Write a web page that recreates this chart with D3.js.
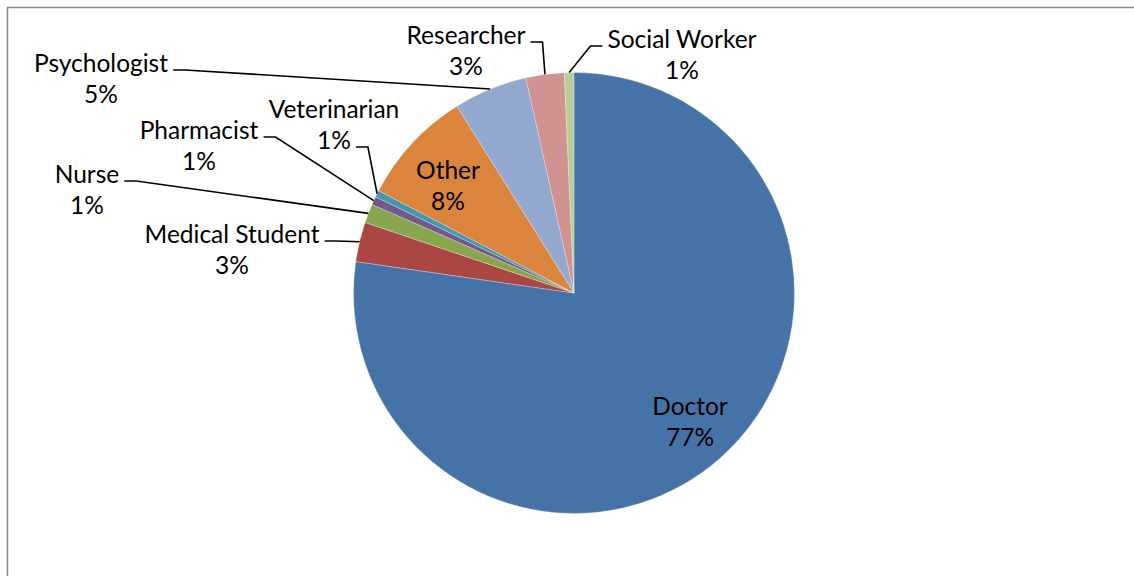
<!DOCTYPE html>
<html>
<head>
<meta charset="utf-8">
<script src="https://cdn.jsdelivr.net/npm/d3@7"></script>
<style>
  html, body { margin: 0; padding: 0; background: #fff; }
  text { font-family: Lato, "Open Sans", sans-serif; fill: #000; }
</style>
</head>
<body>
<div id="chart"></div>
<script>
// respondents by profession
const categories = ["Doctor", "Medical Student", "Nurse", "Pharmacist", "Veterinarian",
                    "Other", "Psychologist", "Researcher", "Social Worker"];
const counts = [772, 29, 14, 6, 5, 84, 54, 28, 7];
const sliceColors = ["#4572A7", "#AA4643", "#89A54E", "#71588F", "#4198AF",
                     "#DB843D", "#93A9CF", "#D19392", "#B9CD96"];

// where each label sits (centre of first line), and where its leader leaves the text
const labelLayout = [
  { x: 690, y: 405, inside: true },
  { x: 232, y: 233, side: "right", line: 0 },
  { x: 87,  y: 173, side: "right", line: 0 },
  { x: 199, y: 129, side: "right", line: 0 },
  { x: 334, y: 108, side: "right", line: 1 },
  { x: 448, y: 169, inside: true },
  { x: 101, y: 62,  side: "right", line: 0 },
  { x: 466, y: 34,  side: "right", line: 0 },
  { x: 682, y: 38,  side: "left",  line: 0 }
];

const width = 1134,
      height = 576;
const cx = 574, cy = 293, radius = 220.5;
const fontSize = 24.5, lineGap = 31;

var svg = d3.select('#chart').append('svg')
  .attr('width', width)
  .attr('height', height);

// chart area frame (runs off the right and bottom of the picture)
svg.append('rect')
  .attr('x', 7.5).attr('y', 7.5)
  .attr('width', 1300).attr('height', 800)
  .style('fill', 'none')
  .style('stroke', '#878787')
  .style('stroke-width', 1.5);

const total = d3.sum(counts);
const pctFormat = v => Math.round(v / total * 100) + '%';

const pie = d3.pie().sort(null).value(d => d)
  .startAngle(0).endAngle(2 * Math.PI);
const arcs = pie(counts);

const arc = d3.arc().innerRadius(0).outerRadius(radius);
const edgeArc = d3.arc().innerRadius(radius).outerRadius(radius);

var g = svg.append('g').attr('transform', `translate(${cx},${cy})`);

g.selectAll('path.slice').data(arcs)
  .enter().append('path')
  .attr('class', 'slice')
  .attr('d', arc)
  .style('fill', (d, i) => sliceColors[i])
  .style('stroke', 'rgba(255,255,255,0.45)')
  .style('stroke-width', 0.6);

var labels = svg.append('g');
var leaders = svg.append('g');

arcs.forEach(function(d, i) {
  const lay = labelLayout[i];
  const lines = [categories[i], pctFormat(counts[i])];
  const nodes = lines.map(function(t, k) {
    return labels.append('text')
      .attr('x', lay.x)
      .attr('y', lay.y + k * lineGap)
      .attr('text-anchor', 'middle')
      .attr('dominant-baseline', 'central')
      .style('font-size', fontSize + 'px')
      .text(t);
  });
  if (lay.inside) return;

  const box = nodes[lay.line].node().getBBox();
  const ly = lay.y + lay.line * lineGap + 8;
  const dir = lay.side === 'right' ? 1 : -1;
  const x0 = lay.side === 'right' ? box.x + box.width + 5 : box.x - 5;
  const x1 = x0 + dir * 12;
  const end = edgeArc.centroid(d);

  leaders.append('path')
    .attr('d', d3.line()([[x0, ly], [x1, ly], [cx + end[0], cy + end[1]]]))
    .style('fill', 'none')
    .style('stroke', '#000')
    .style('stroke-width', 1.6);
});
</script>
</body>
</html>
